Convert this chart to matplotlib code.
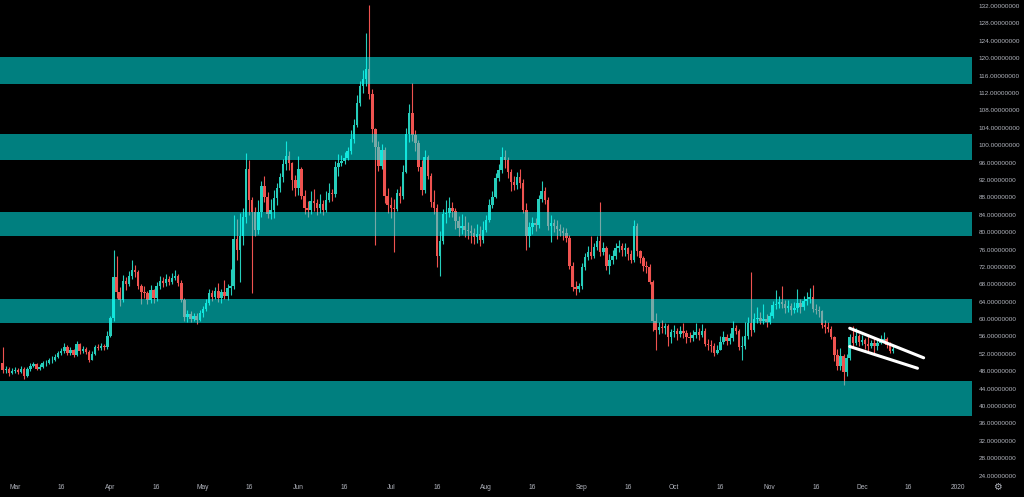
import numpy as np
import pandas as pd
import matplotlib
matplotlib.use("Agg")
import matplotlib.pyplot as plt

# daily candles, 2019-02-25 .. 2019-12-11 (open = previous close)
FIRST_OPEN = 49.8
START = "2019-02-25"

feb_close = [48.2, 48.6, 47.6, 48.1]
feb_high = [53.6, 49.2, 48.9, 48.7]
feb_low = [47.6, 47.7, 47.0, 47.3]

mar_close = [48.3, 47.9, 48.6, 46.9, 48.5, 49.2, 49.6, 48.6, 49.1, 49.8,
             49.9, 50.5, 50.7, 51.3, 52.2, 52.6, 53.6, 52.2, 52.9, 51.8,
             54.3, 52.6, 53.1, 52.5, 50.7, 52.0, 53.5, 53.4, 53.9, 53.5, 56.2]
mar_high = [49.0, 48.8, 49.3, 49.0, 48.9, 49.8, 50.2, 49.9, 49.6, 50.4,
            50.6, 51.0, 51.4, 51.9, 52.7, 53.4, 54.6, 54.0, 53.5, 53.2,
            55.0, 54.6, 53.8, 53.6, 52.8, 52.6, 54.0, 54.2, 54.4, 54.3, 57.2]
mar_low = [47.6, 47.4, 47.5, 46.3, 46.7, 48.1, 48.9, 48.2, 48.3, 48.8,
           49.2, 49.6, 50.0, 50.4, 51.0, 51.8, 52.3, 51.7, 51.8, 51.2,
           51.6, 52.0, 52.2, 51.9, 50.2, 50.5, 51.8, 52.8, 53.0, 53.0, 53.2]

apr_close = [60.2, 69.6, 66.2, 64.5, 68.7, 68.0, 69.8, 71.2, 70.9, 67.6,
             66.3, 65.9, 64.3, 66.6, 64.8, 67.5, 68.8, 68.2, 69.2, 68.6,
             69.5, 69.8, 68.2, 64.4, 60.4, 61.2, 60.1, 60.6, 59.9, 61.3]
apr_high = [60.8, 76.0, 74.5, 67.4, 70.2, 69.6, 71.0, 73.5, 72.4, 71.3,
            68.0, 67.6, 66.5, 67.8, 67.0, 68.6, 70.0, 69.6, 70.4, 70.0,
            70.6, 71.2, 70.4, 68.9, 64.8, 62.2, 61.8, 61.5, 61.4, 62.0]
apr_low = [55.8, 59.5, 64.8, 63.0, 64.0, 66.8, 67.5, 69.2, 69.6, 66.9,
           63.5, 64.8, 63.4, 63.8, 63.6, 64.2, 66.9, 67.4, 67.6, 67.8,
           68.0, 68.9, 67.5, 63.9, 59.6, 59.4, 59.3, 59.5, 58.8, 59.6]

may_close = [62.4, 63.8, 66.0, 65.1, 66.5, 64.9, 66.2, 65.2, 67.1, 67.6,
             78.5, 75.8, 79.0, 83.4, 94.6, 87.4, 84.7, 80.4, 84.6, 90.5,
             88.0, 84.2, 85.2, 87.8, 90.2, 92.6, 95.6, 97.6, 95.8, 92.0, 90.2]
may_high = [63.0, 64.6, 67.0, 66.6, 67.4, 68.4, 67.0, 68.9, 68.0, 71.5,
            84.0, 83.0, 84.5, 85.5, 98.3, 96.5, 88.0, 85.8, 87.4, 91.7,
            93.0, 89.2, 87.6, 89.8, 91.3, 93.6, 96.8, 100.9, 98.6, 96.2, 93.2]
may_low = [60.4, 61.8, 63.2, 64.2, 64.6, 64.0, 63.6, 64.6, 64.3, 65.6,
           67.0, 73.5, 68.5, 77.0, 82.0, 84.0, 66.0, 79.0, 79.6, 83.5,
           87.0, 83.2, 83.0, 83.2, 86.3, 89.3, 91.5, 94.4, 94.3, 89.6, 88.4]

jun_close = [94.6, 88.4, 85.6, 85.0, 87.2, 86.6, 85.5, 86.4, 85.1, 87.5,
             89.1, 88.7, 94.9, 96.0, 96.4, 97.1, 98.6, 101.5, 104.6, 109.8,
             113.6, 115.1, 117.6, 111.8, 103.8, 99.5, 95.2, 98.8, 88.3, 86.3]
jun_high = [97.5, 95.0, 89.6, 87.2, 89.5, 90.0, 87.6, 88.8, 87.3, 89.5,
            91.3, 90.0, 96.3, 97.9, 97.8, 98.5, 99.5, 103.4, 106.0, 111.6,
            114.8, 117.3, 125.8, 132.2, 113.0, 104.0, 101.0, 100.2, 99.5, 90.2]
jun_low = [88.6, 87.6, 84.2, 83.4, 84.2, 84.8, 84.0, 84.5, 84.0, 84.7,
           86.9, 87.2, 88.0, 93.0, 95.2, 95.6, 96.5, 98.0, 100.6, 104.1,
           109.0, 112.0, 113.6, 110.5, 100.7, 77.0, 94.0, 94.5, 86.8, 84.5]

jul_close = [85.6, 85.4, 88.9, 88.2, 93.9, 102.6, 107.3, 102.4, 100.4, 95.0,
             89.6, 97.2, 93.0, 87.0, 85.5, 74.5, 78.0, 84.2, 84.4, 85.6,
             84.8, 82.6, 80.9, 81.5, 80.6, 80.2, 79.7, 78.8, 79.6, 78.3, 80.6]
jul_high = [88.0, 87.6, 90.0, 90.5, 95.5, 104.0, 109.5, 114.3, 103.6, 101.2,
            96.5, 99.0, 97.8, 93.6, 89.6, 86.5, 80.2, 85.4, 87.5, 88.0,
            86.9, 85.6, 83.6, 84.1, 83.8, 82.4, 81.6, 81.0, 81.9, 81.5, 82.6]
jul_low = [83.2, 75.4, 84.8, 86.6, 87.6, 93.5, 100.7, 101.0, 98.6, 94.0,
           88.6, 89.0, 92.2, 85.8, 84.2, 72.0, 69.8, 77.3, 82.2, 83.4,
           83.5, 80.8, 79.2, 79.6, 78.9, 78.4, 77.5, 77.3, 77.6, 76.8, 77.6]

aug_close = [82.9, 86.3, 88.1, 92.5, 94.2, 97.2, 96.6, 93.8, 91.6, 90.8,
             92.6, 91.2, 85.2, 79.0, 81.2, 82.0, 81.6, 87.6, 89.5, 87.3,
             81.4, 82.0, 81.3, 80.8, 80.2, 79.8, 78.6, 72.2, 67.3, 66.9, 67.5]
aug_high = [84.0, 87.6, 89.4, 93.6, 95.6, 99.6, 98.9, 97.2, 94.5, 92.9,
            93.8, 94.5, 92.2, 86.8, 82.4, 83.5, 83.2, 88.5, 91.8, 90.4,
            88.0, 83.9, 83.0, 82.7, 81.9, 81.2, 80.9, 79.4, 73.2, 68.7, 68.4]
aug_low = [80.0, 82.4, 85.6, 87.8, 91.8, 93.5, 94.7, 92.5, 89.4, 89.7,
           89.9, 90.2, 84.3, 76.0, 76.5, 79.6, 80.3, 81.0, 86.9, 86.4,
           80.5, 77.8, 80.1, 78.4, 79.2, 78.3, 77.8, 71.5, 66.4, 65.6, 66.2]

sep_close = [72.0, 74.3, 75.4, 74.6, 76.5, 77.9, 75.4, 76.4, 72.3, 73.6,
             74.5, 76.4, 76.9, 75.8, 76.3, 75.0, 73.6, 81.4, 75.6, 74.0,
             72.3, 72.0, 68.6, 59.6, 57.6, 58.2, 57.9, 58.3, 55.8, 57.0]
sep_high = [72.8, 75.3, 76.8, 79.0, 77.6, 79.0, 87.0, 77.7, 76.9, 75.0,
            75.9, 77.6, 78.2, 77.6, 77.5, 76.6, 76.0, 82.8, 82.2, 76.0,
            74.6, 73.3, 72.6, 68.9, 61.5, 59.3, 59.9, 59.2, 58.9, 57.8]
sep_low = [67.0, 71.4, 73.7, 73.8, 74.0, 76.0, 74.6, 74.8, 71.3, 70.4,
           72.6, 73.9, 75.4, 74.6, 74.6, 73.6, 72.8, 73.2, 74.4, 73.0,
           71.1, 70.7, 68.0, 57.3, 52.8, 56.6, 56.8, 56.6, 53.9, 54.6]

oct_close = [57.3, 56.5, 57.2, 56.8, 55.8, 55.6, 56.3, 57.0, 56.4, 57.2,
             54.3, 54.0, 53.9, 52.3, 53.0, 54.8, 55.9, 54.9, 55.6, 57.9,
             57.2, 53.5, 53.8, 56.0, 59.0, 57.6, 60.0, 60.3, 59.6, 60.0, 59.4]
oct_high = [58.6, 58.0, 58.4, 59.2, 57.4, 57.0, 57.4, 59.0, 57.9, 58.8,
            57.9, 55.4, 55.2, 54.6, 54.0, 56.2, 57.2, 56.6, 56.8, 59.5,
            58.6, 57.8, 56.0, 59.4, 60.4, 70.8, 61.4, 62.7, 61.6, 63.5, 61.2]
oct_low = [55.8, 55.2, 55.9, 55.6, 54.4, 54.8, 55.0, 55.6, 55.2, 55.9,
           53.8, 52.8, 52.4, 51.4, 51.9, 52.8, 54.2, 54.0, 54.3, 55.0,
           56.6, 52.8, 50.6, 53.2, 55.4, 56.2, 57.1, 59.0, 58.8, 58.8, 58.2]

nov_close = [60.8, 63.2, 63.5, 64.0, 63.4, 62.6, 63.1, 62.0, 62.5, 63.6,
             62.7, 64.2, 64.6, 65.0, 62.3, 62.0, 61.8, 58.6, 58.2, 57.8,
             55.9, 51.8, 49.2, 51.6, 47.8, 51.0, 55.8, 54.6, 56.0, 54.7]
nov_high = [61.6, 64.2, 66.7, 65.3, 67.5, 64.4, 64.3, 63.7, 64.0, 67.0,
            64.6, 65.2, 66.2, 67.2, 67.9, 63.4, 63.0, 62.0, 59.9, 59.4,
            58.3, 56.1, 53.1, 53.4, 51.9, 51.9, 56.6, 58.4, 58.0, 56.6]
nov_low = [58.8, 60.2, 62.4, 62.6, 62.5, 61.3, 61.6, 61.0, 61.5, 61.6,
           61.5, 62.0, 63.2, 63.6, 61.6, 61.2, 60.4, 57.9, 56.8, 57.0,
           55.4, 50.3, 48.2, 48.4, 44.9, 47.0, 50.6, 53.5, 54.0, 53.8]

dec_close = [55.2, 54.3, 53.9, 54.4, 53.7, 54.5, 55.2, 55.4, 54.0, 52.6, 53.2]
dec_high = [56.4, 55.6, 56.6, 55.2, 55.6, 55.6, 56.3, 57.0, 55.8, 54.8, 53.8]
dec_low = [54.0, 53.1, 52.6, 53.3, 51.9, 53.0, 54.3, 54.6, 53.4, 52.2, 52.3]

# horizontal zones (low, high)
zone_low = [37.8, 59.0, 79.1, 96.5, 114.1]
zone_high = [45.85, 64.6, 84.6, 102.6, 120.2]

# falling wedge / flag drawing
flag_upper_dates = ["2019-11-27", "2019-12-21"]
flag_upper_vals = [57.9, 51.1]
flag_lower_dates = ["2019-11-27", "2019-12-19"]
flag_lower_vals = [53.7, 48.7]

tick_dates = ["2019-03-01", "2019-03-16", "2019-04-01", "2019-04-16", "2019-05-01",
              "2019-05-16", "2019-06-01", "2019-06-16", "2019-07-01", "2019-07-16",
              "2019-08-01", "2019-08-16", "2019-09-01", "2019-09-16", "2019-10-01",
              "2019-10-16", "2019-11-01", "2019-11-16", "2019-12-01", "2019-12-16",
              "2020-01-01"]
tick_labels = ["Mar", "16", "Apr", "16", "May", "16", "Jun", "16", "Jul", "16",
               "Aug", "16", "Sep", "16", "Oct", "16", "Nov", "16", "Dec", "16", "2020"]

closes = np.array(feb_close + mar_close + apr_close + may_close + jun_close + jul_close
                  + aug_close + sep_close + oct_close + nov_close + dec_close)
highs = np.array(feb_high + mar_high + apr_high + may_high + jun_high + jul_high
                 + aug_high + sep_high + oct_high + nov_high + dec_high)
lows = np.array(feb_low + mar_low + apr_low + may_low + jun_low + jul_low
                + aug_low + sep_low + oct_low + nov_low + dec_low)
opens = np.concatenate([[FIRST_OPEN], closes[:-1]])

origin = pd.Timestamp("2019-03-01")


def day_num(dates):
    return np.array((pd.to_datetime(dates) - origin).days, dtype=float)


x = day_num(pd.date_range(START, periods=len(closes)))

UP = "#26cdbb"
DOWN = "#ef5350"
BG = "#000000"
TXT = "#b2b5be"

fig = plt.figure(figsize=(10.24, 4.97), dpi=100, facecolor=BG)
ax = fig.add_axes([0.0, 17 / 497, 972 / 1024, 480 / 497])
ax.set_facecolor(BG)

up = closes >= opens
colors = np.where(up, UP, DOWN)
body_lo = np.minimum(opens, closes)
body_h = np.maximum(np.abs(closes - opens), 0.2)
ax.vlines(x, np.minimum(lows, body_lo), np.maximum(highs, body_lo + body_h),
          colors=colors, linewidth=0.8, zorder=2)
ax.bar(x, body_h, bottom=body_lo, width=0.8, color=colors, linewidth=0, zorder=2)

for lo, hi in zip(zone_low, zone_high):
    ax.axhspan(lo, hi, color="#00ffff", alpha=0.5, linewidth=0, zorder=3)

ax.plot(day_num(flag_upper_dates), flag_upper_vals, color="white", linewidth=2.2,
        solid_capstyle="round", zorder=4)
ax.plot(day_num(flag_lower_dates), flag_lower_vals, color="white", linewidth=2.2,
        solid_capstyle="round", zorder=4)

ax.set_xlim(-4.87, 310.7)
ax.set_ylim(23.0, 133.38)

ax.yaxis.tick_right()
yt = np.arange(24, 133, 4)
ax.set_yticks(yt)
ax.set_yticklabels([f"{v:.8f}" for v in yt])
ax.set_xticks(day_num(tick_dates))
ax.set_xticklabels(tick_labels)
ax.tick_params(axis="y", length=0, pad=5, labelsize=4.6, labelcolor=TXT)
ax.tick_params(axis="x", length=0, pad=3, labelsize=4.8, labelcolor=TXT)
for lab in ax.get_xticklabels() + ax.get_yticklabels():
    lab.set_fontfamily("Liberation Sans")
for s in ax.spines.values():
    s.set_visible(False)

# gear icon in the corner
fig.text(997 / 1024, 1 - 487 / 497, "\u2699", color=TXT, fontsize=7,
         ha="center", va="center")

fig.savefig("out.png", dpi=100, facecolor=BG)
